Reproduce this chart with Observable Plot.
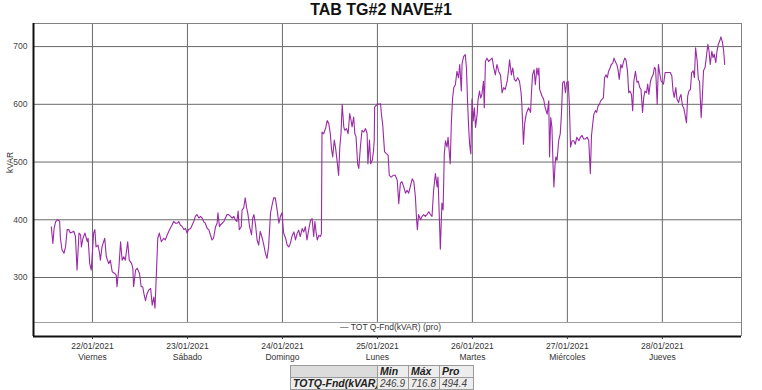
<!DOCTYPE html>
<html><head><meta charset="utf-8">
<script src="https://cdn.jsdelivr.net/npm/d3@7"></script>
<script src="https://cdn.jsdelivr.net/npm/@observablehq/plot@0.6"></script>
<style>
body{margin:0;background:#fff;width:762px;height:390px;overflow:hidden;position:relative;font-family:"Liberation Sans",Arial,sans-serif}
#title{position:absolute;left:0;top:0;width:762px;text-align:center;font-weight:bold;font-size:16px;line-height:20px;color:#111}
#chart{position:absolute;left:0;top:22px}
#stats{position:absolute;left:290px;top:365px;border-collapse:collapse;table-layout:fixed;width:183px;font-style:italic;font-size:10.5px;color:#222}
#stats td{border:1px solid #9a9a9a;background:#ededed;padding:0 2px;height:12px;line-height:11px;text-align:left;white-space:nowrap;overflow:hidden;box-sizing:border-box}
#stats td.h{font-weight:bold}
#stats td.blank{background:#dcdcdc}
#stats td.v{color:#444;font-size:10px}
</style></head><body>
<div id="title">TAB TG#2 NAVE#1</div>
<div id="chart"></div>
<table id="stats"></table>
<script>
// hours since 2021-01-21 00:00
const hours = [
13.6,14.0,14.3,14.7,15.1,15.7,15.9,16.3,16.8,17.2,17.6,18.0,18.4,19.3,19.7,20.1,20.6,21.0,21.2,21.6,22.1,22.7,22.9,23.3,23.7,24.3,24.6,24.9,25.4,25.8,26.0,26.4,27.1,27.5,28.1,28.5,29.0,29.6,30.0,30.2,30.7,31.1,31.5,31.9,32.3,32.9,33.3,33.9,34.2,34.4,34.9,35.3,35.9,36.3,36.7,37.0,37.4,37.8,38.2,38.7,39.1,39.5,39.8,40.1,40.5,40.9,41.4,42.0,42.4,42.9,43.5,
44.1,44.5,45.0,45.4,45.8,46.2,46.7,47.1,47.5,47.9,48.3,48.8,49.2,49.6,50.0,50.4,50.9,51.3,51.7,52.1,52.5,53.0,53.4,53.8,54.2,54.6,55.1,55.5,55.7,56.1,56.3,56.8,57.2,57.6,58.0,58.4,58.9,59.3,59.7,60.1,60.5,60.8,61.1,61.6,61.8,62.2,62.6,62.9,63.3,63.7,64.2,64.5,64.8,65.2,65.6,66.0,66.4,66.9,67.3,67.7,68.1,68.5,69.0,69.4,69.8,70.2,70.7,71.1,71.5,71.9,72.3,72.8,73.2,73.6,74.0,
74.4,74.9,75.3,75.7,76.1,76.5,77.0,77.4,77.8,78.2,78.7,79.1,79.5,79.9,80.2,80.5,80.8,81.2,81.6,81.85,82.0,82.4,82.9,83.3,83.7,84.1,84.4,84.7,85.1,85.4,85.8,86.2,86.5,86.8,87.1,87.5,87.75,88.2,88.6,89.0,89.35,89.6,90.0,90.3,90.6,91.0,91.3,91.7,92.1,92.55,93.0,93.4,93.6,94.0,94.3,94.7,95.0,95.2,95.3,95.7,96.0,96.3,96.8,97.0,97.35,97.8,98.2,98.7,99.0,99.5,100.0,100.5,101.0,101.4,101.8,102.2,102.65,103.1,103.5,103.9,104.3,
104.8,105.2,105.6,105.9,106.1,106.4,106.9,107.3,107.7,108.1,108.5,109.0,109.4,109.8,110.2,110.65,111.1,111.3,111.7,111.9,112.3,112.6,112.9,113.2,113.6,113.85,114.2,114.4,114.7,115.0,115.3,115.7,116.1,116.5,116.8,117.2,117.4,117.8,118.2,118.5,118.8,119.1,119.3,119.6,119.9,120.2,120.5,120.8,121.2,121.4,121.8,122.1,122.4,122.8,123.0,123.3,123.7,124.1,124.5,125.0,125.4,125.8,126.2,126.65,127.1,127.5,127.9,128.3,128.8,129.2,129.4,129.85,130.2,130.6,131.0,131.45,131.9,132.3,132.5,132.9,133.2,133.6,133.9,134.2,134.7,
134.9,135.2,135.6,135.9,136.3,136.6,136.8,137.0,137.3,137.6,138.0,138.4,138.9,139.3,139.5,139.8,140.1,140.4,140.6,140.9,141.1,141.4,141.8,142.2,142.5,142.8,143.2,143.5,143.8,144.2,144.5,144.8,145.2,145.6,146.0,146.4,146.9,147.3,147.7,148.1,148.55,149.0,149.4,149.8,150.1,150.4,150.7,151.1,151.4,151.75,152.1,152.4,152.8,153.1,153.4,153.8,154.1,154.4,154.8,155.1,155.45,155.8,156.1,156.5,156.8,157.1,157.5,157.8,158.2,158.5,158.8,159.2,159.5,159.8,160.2,160.5,160.8,161.2,
161.6,161.9,162.3,162.6,163.0,163.3,163.6,164.0,164.3,164.6,165.0,165.3,165.7,166.0,166.3,166.7,167.0,167.3,167.7,168.0,168.3,168.7,169.0,169.4,169.7,170.0,170.4,170.7,171.0,171.4,171.7,172.1,172.4,172.7,173.1,173.4,173.7,174.1,174.4,174.7,175.1,175.4,175.8,176.1,176.4,176.8,177.1,177.4,177.8,178.1,178.4,178.8,179.1,179.5,179.8,180.1,180.5,180.8,181.1,181.5,181.8,182.15,182.5,182.8,183.2,183.5,183.75
];
const kvar = [
388,359,385,397,400,398,368,348,342,353,383,383,377,380,371,313,377,374,353,368,377,362,368,324,313,377,383,353,356,342,330,353,368,336,324,330,310,307,304,284,319,362,330,336,330,362,330,324,316,284,313,316,307,284,284,272,260,272,278,281,252,266,246.9,298,368,377,362,368,365,374,383,
391,397,394,394,397,391,388,383,385,377,383,385,391,397,406,409,403,406,403,397,394,385,383,374,365,368,388,394,412,388,391,394,397,403,409,409,406,403,406,400,397,415,383,388,417,420,438,423,409,388,374,403,409,391,365,356,380,368,356,342,333,353,412,426,438,438,415,394,406,412,377,368,356,353,359,
371,379,365,376,382,371,385,379,388,365,385,399,402,371,397,379,365,373,371,376,552,549,558,572,567,549,523,509,538,526,503,477,526,549,600,561,555,558,549,584,572,561,578,549,544,497,489,526,555,552,558,549,497,538,497,503,518,538,595,598,601,600,601,584,564,518,515,512,477,474,477,477,469,428,463,466,457,446,451,446,457,
471,466,440,400,383,409,400,406,409,406,409,414,409,406,451,480,457,474,394,349,429,417,514,537,526,543,514,497,571,611,629,634,657,646,669,623,671,683,686,663,600,554,531,514,609,571,594,560,583,606,623,611,617,640,594,674,680,674,677,680,663,651,669,657,651,620,629,626,640,663,677,651,663,643,640,646,640,620,600,531,566,583,589,594,586,
617,651,660,634,663,651,663,626,620,614,609,594,583,606,509,577,560,491,457,497,509,503,537,549,583,637,640,620,637,640,600,526,537,537,531,543,537,543,546,540,540,543,537,480,546,566,583,589,586,597,600,606,609,611,646,651,646,657,663,669,671,680,674,669,660,643,669,663,674,680,677,657,620,623,617,589,640,657,
638,640,629,626,586,612,623,620,635,617,640,646,652,664,661,600,669,655,640,638,635,655,655,655,655,655,649,623,612,629,609,603,612,617,597,594,583,568,614,623,626,655,658,646,698,675,643,640,577,612,658,664,681,704,692,669,692,681,687,672,692,704,710,716.8,707,692,669
];
const yTicks = [300, 400, 500, 600, 700];
const dayDates = ["22/01/2021","23/01/2021","24/01/2021","25/01/2021","26/01/2021","27/01/2021","28/01/2021"];
const dayNames = ["Viernes","Sábado","Domingo","Lunes","Martes","Miércoles","Jueves"];
const seriesName = "TOT Q-Fnd(kVAR) (pro)";
const statHeaders = ["Min", "Máx", "Pro"];
const statRowName = "TOTQ-Fnd(kVAR)";
const statValues = [246.9, 716.8, 494.4];

const t0 = Date.UTC(2021, 0, 21);
const toDate = h => new Date(t0 + h * 3600000);
const data = hours.map((h, i) => ({t: toDate(h), v: kvar[i]}));
const days = dayDates.map(s => { const [d, m, y] = s.split("/").map(Number); return new Date(Date.UTC(y, m - 1, d)); });
const xMin = toDate(9.1), xMax = toDate(188);
const yMin = 197.8, yMax = 740, gridMin = 222;
const grid = "#6a6a6a";

const chart = Plot.plot({
  width: 762, height: 342,
  marginTop: 1, marginBottom: 28, marginLeft: 33, marginRight: 21,
  style: {fontFamily: "'Liberation Sans', Arial, sans-serif", fontSize: "8px", background: "white", color: "#333"},
  x: {type: "utc", domain: [xMin, xMax]},
  y: {domain: [yMin, yMax]},
  marks: [
    Plot.ruleY(yTicks, {stroke: grid, strokeWidth: 1}),
    Plot.ruleX(days, {y1: gridMin, y2: yMax, stroke: grid, strokeWidth: 1}),
    Plot.ruleY([yMax], {stroke: "#808080"}),
    Plot.ruleX([xMax], {y1: yMin, y2: yMax, stroke: "#808080"}),
    Plot.ruleY([gridMin], {stroke: "#a0a0a0"}),
    Plot.line(data, {x: "t", y: "v", stroke: "#9a2aa6", strokeWidth: 1.1}),
    Plot.ruleY([yMin], {stroke: "#111", strokeWidth: 2}),
    Plot.ruleX([xMin], {y1: yMin, y2: yMax, stroke: "#111", strokeWidth: 2}),
    Plot.text(["— " + seriesName], {frameAnchor: "bottom", dx: 3, dy: -7, fontSize: 8.5, fill: "#333"}),
    Plot.text(["kVAR"], {frameAnchor: "left", dx: -23, dy: -7, rotate: -90, fontSize: 8.5, fill: "#333"}),
    Plot.axisY(yTicks, {tickSize: 0, tickPadding: 6, fontSize: 8.5, fill: "#444", label: null}),
    Plot.axisX(days, {tickSize: 3, tickPadding: 2, fontSize: 8.5, fill: "#333", lineHeight: 1.25, label: null,
      tickFormat: d => { const i = Math.round((d - days[0]) / 864e5); return dayDates[i] + "\n" + dayNames[i]; }})
  ]
});
document.getElementById("chart").appendChild(chart);

const tbl = document.getElementById("stats");
const widths = [87, 31, 31, 34];
const cg = document.createElement("colgroup");
widths.forEach(w => { const c = document.createElement("col"); c.style.width = w + "px"; cg.appendChild(c); });
tbl.appendChild(cg);
const r1 = tbl.insertRow();
const c0 = r1.insertCell(); c0.className = "blank";
statHeaders.forEach(h => { const c = r1.insertCell(); c.className = "h"; c.textContent = h; });
const r2 = tbl.insertRow();
const n = r2.insertCell(); n.className = "h"; n.textContent = statRowName;
statValues.forEach(v => { const c = r2.insertCell(); c.className = "v"; c.textContent = v.toFixed(1); });
</script>
</body></html>
